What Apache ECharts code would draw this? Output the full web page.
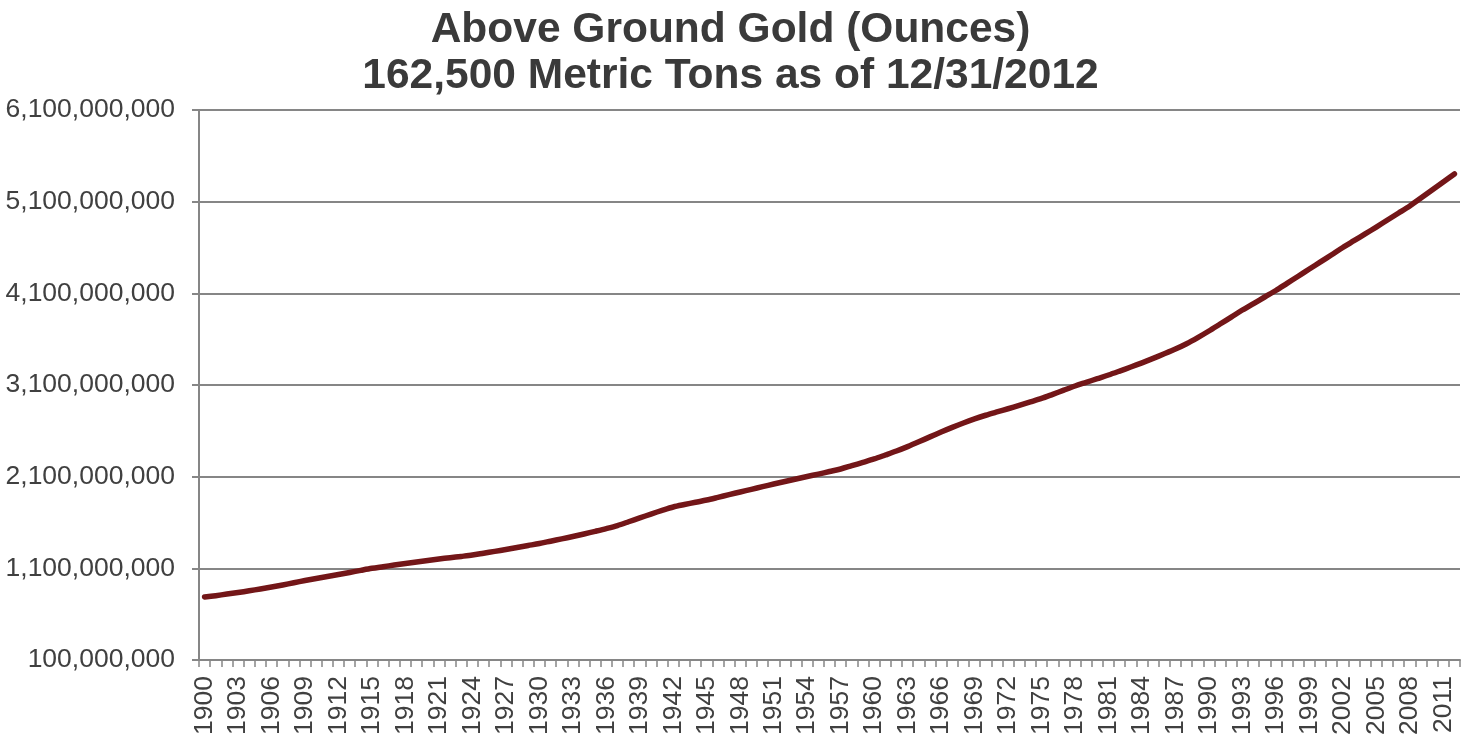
<!DOCTYPE html>
<html>
<head>
<meta charset="utf-8">
<title>Above Ground Gold (Ounces)</title>
<script src="https://cdn.jsdelivr.net/npm/echarts@6/dist/echarts.min.js"></script>
<style>
  html, body { margin: 0; padding: 0; background: #ffffff; }
  #chart { width: 1461px; height: 743px; }
</style>
</head>
<body>
<div id="chart"></div>
<script>
// Years on the category axis
const years = [];
for (let y = 1900; y <= 2012; y++) years.push(String(y));

// Cumulative above-ground gold stock, millions of troy ounces, one value per year 1900–2012
const goldMillionOz = [
  787, 802, 819, 836, 855, 875, 896, 919, 943, 967,          // 1900–1909
  989, 1011, 1033, 1055, 1078, 1100, 1118, 1136, 1153, 1170, // 1910–1919
  1186, 1202, 1216, 1230, 1245, 1265, 1285, 1305, 1327, 1349, // 1920–1929
  1371, 1396, 1421, 1447, 1475, 1504, 1534, 1567, 1608, 1650, // 1930–1939
  1692, 1732, 1769, 1796, 1821, 1845, 1874, 1904, 1933, 1962, // 1940–1949
  1991, 2020, 2047, 2075, 2102, 2128, 2156, 2184, 2220, 2256, // 1950–1959
  2293, 2336, 2380, 2428, 2480, 2534, 2587, 2638, 2686, 2730, // 1960–1969
  2770, 2806, 2841, 2878, 2915, 2953, 2998, 3044, 3089, 3129, // 1970–1979
  3169, 3209, 3252, 3296, 3342, 3390, 3440, 3492, 3550, 3617, // 1980–1989
  3689, 3765, 3841, 3918, 3989, 4060, 4131, 4209, 4287, 4365, // 1990–1999
  4443, 4521, 4600, 4674, 4748, 4823, 4900, 4976, 5053, 5140, // 2000–2009
  5227, 5314, 5402                                            // 2010–2012
];
const goldOunces = goldMillionOz.map(v => v * 1e6);

// Value axis range and step
const yMin = 100000000;
const yMax = 6100000000;
const yStep = 1000000000;

const titleLines = ['Above Ground Gold (Ounces)', '162,500 Metric Tons as of 12/31/2012'];

const chart = echarts.init(document.getElementById('chart'), null, { renderer: 'canvas' });

const axisGray = '#868686';
const textGray = '#404040';
const fontFamily = '"Liberation Sans", Arial, Helvetica, sans-serif';

chart.setOption({
  backgroundColor: '#ffffff',
  animation: false,
  title: {
    text: titleLines.join('\n'),
    left: 'center',
    top: 2,
    textStyle: {
      fontFamily: fontFamily,
      fontWeight: 'bold',
      fontSize: 42.5,
      lineHeight: 46,
      color: '#3a3a3a'
    }
  },
  grid: {
    left: 199,
    right: 1,
    top: 110,
    bottom: 83,
    containLabel: false
  },
  xAxis: {
    type: 'category',
    data: years,
    boundaryGap: true,
    axisLine: { show: true, lineStyle: { color: axisGray, width: 2 } },
    axisTick: {
      show: true,
      interval: 0,
      alignWithLabel: false,
      length: 7,
      lineStyle: { color: axisGray, width: 1.5 }
    },
    axisLabel: {
      interval: 2,
      rotate: 90,
      margin: 16,
      fontFamily: fontFamily,
      fontSize: 26.5,
      color: textGray
    },
    splitLine: { show: false }
  },
  yAxis: {
    type: 'value',
    min: yMin,
    max: yMax,
    interval: yStep,
    axisLine: { show: true, lineStyle: { color: axisGray, width: 2 } },
    axisTick: { show: true, length: 7, lineStyle: { color: axisGray, width: 2 } },
    axisLabel: {
      margin: 24,
      fontFamily: fontFamily,
      fontSize: 26.5,
      color: textGray,
      formatter: v => Math.round(v).toLocaleString('en-US')
    },
    splitLine: { show: true, lineStyle: { color: axisGray, width: 2 } }
  },
  series: [{
    type: 'line',
    name: 'Above Ground Gold',
    data: goldOunces,
    showSymbol: false,
    smooth: 0.3,
    lineStyle: { color: '#731618', width: 5.5, cap: 'round', join: 'round' }
  }]
});
</script>
</body>
</html>
